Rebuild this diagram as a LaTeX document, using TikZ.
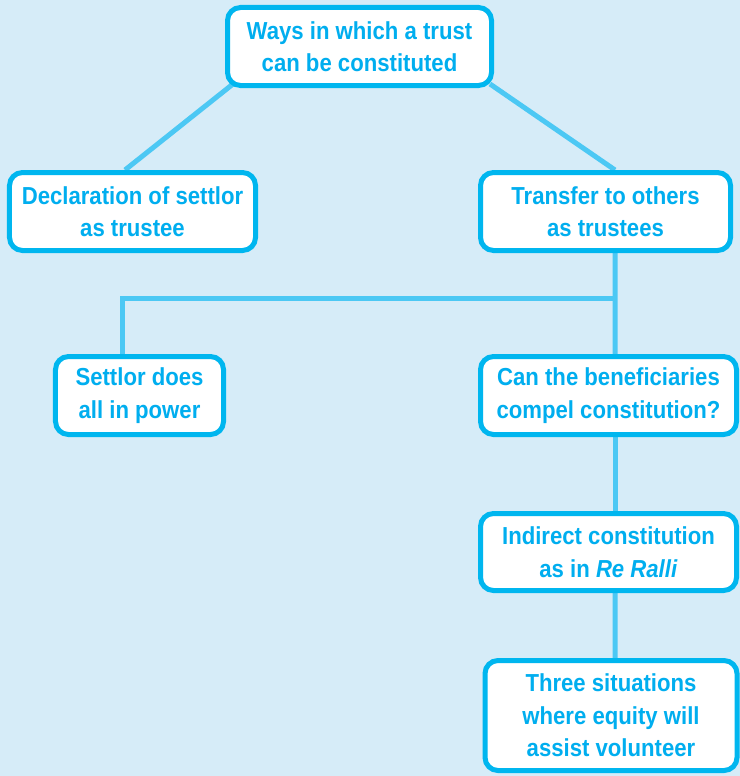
\documentclass[tikz,border=0pt]{standalone}
\usepackage{fontspec}
\setmainfont{Liberation Sans}[FakeStretch=0.9]
\usetikzlibrary{backgrounds}
\definecolor{bgblue}{HTML}{D6ECF8}
\definecolor{boxline}{HTML}{00B6EF}
\definecolor{txtblue}{HTML}{00AEEF}
\definecolor{connblue}{HTML}{4CC8F4}
\tikzset{
  box/.style={draw=boxline, line width=5bp, fill=white, rounded corners=13bp,
    align=center, inner sep=0pt, text=txtblue,
    font=\bfseries\fontsize{24.6bp}{32.5bp}\selectfont},
  conn/.style={draw=connblue, line width=5bp}
}
\begin{document}
\begin{tikzpicture}[x=1bp,y=-1bp]
\useasboundingbox (0,0) rectangle (740,776);
\node[box, minimum width=264bp, minimum height=78bp] (root) at (359.5,46.5) {Ways in which a trust\\can be constituted};
\node[box, minimum width=246bp, minimum height=78bp] (decl) at (132.5,211.5) {Declaration of settlor\\as trustee};
\node[box, minimum width=250bp, minimum height=78bp] (tr) at (605.5,211.5) {Transfer to others\\as trustees};
\node[box, minimum width=168bp, minimum height=78bp] (set) at (139.5,395.5) {Settlor does\\all in power};
\node[box, minimum width=256bp, minimum height=78bp] (can) at (608.5,395.5) {Can the beneficiaries\\compel constitution?};
\node[box, minimum width=256bp, minimum height=77bp] (ind) at (608.5,552) {Indirect constitution\\as in \textit{Re Ralli}};
\node[box, minimum width=252bp, minimum height=110bp] (three) at (611,715.5) {Three situations\\where equity will\\assist volunteer};
\coordinate (j) at (615,298);
\begin{scope}[on background layer]
\fill[bgblue] (0,0) rectangle (740,776);
\draw[conn] ([xshift=8bp,yshift=4bp]root.south west) -- ([xshift=-7.5bp]decl.north);
\draw[conn] ([xshift=-4bp,yshift=4bp]root.south east) -- ([xshift=9.5bp]tr.north);
\draw[conn] ([xshift=9.5bp]tr.south) -- ([xshift=6.5bp]can.north);
\draw[conn] (j) -| ([xshift=-17.5bp]set.north);
\draw[conn] ([xshift=6.5bp]can.south) -- ([xshift=6.5bp]ind.north);
\draw[conn] ([xshift=6.5bp]ind.south) -- ([xshift=4bp]three.north);
\end{scope}
\end{tikzpicture}
\end{document}
